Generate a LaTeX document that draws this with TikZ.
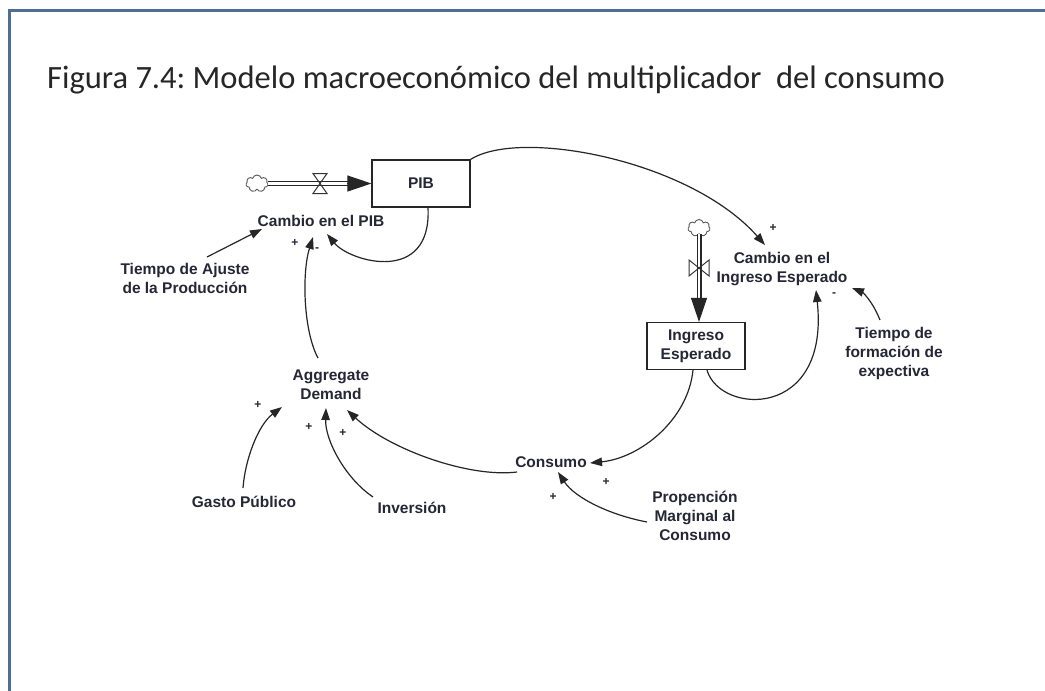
\documentclass[tikz,border=0pt]{standalone}
\usepackage{fontspec}
\setmainfont{Liberation Sans}
\newfontfamily\titlefont{Carlito}
\usetikzlibrary{arrows.meta,calc,shapes.symbols}
\definecolor{framecol}{HTML}{4F6E93}
\definecolor{txt}{HTML}{262636}
\frenchspacing
\begin{document}
\begin{tikzpicture}[x=1pt,y=-1pt,
 lbl/.style={font=\fontsize{15.5}{19}\selectfont\bfseries, text=txt, align=center, inner sep=1pt},
 stock/.style={draw=black!85, line width=1.2pt, minimum width=98pt, minimum height=47pt, inner sep=0pt, align=center, text=txt, font=\fontsize{15.5}{19}\selectfont\bfseries},
 conn/.style={line width=1.2pt, draw=black!85, -{Triangle[length=12pt,width=8.5pt]}},
 pipe/.style={double=white, double distance=2.6pt, line width=1.2pt, draw=black!85},
 pipetip/.style={-{Triangle[length=24pt,width=16pt]}, line width=1pt, draw=black!85},
 sgn/.style={font=\fontsize{12}{12}\selectfont\bfseries, inner sep=0pt, text=txt},
 cloudsrc/.style={cloud, cloud puffs=7, draw=black!65, line width=0.9pt, minimum width=22pt, minimum height=17pt, inner sep=0pt},
 valve/.style={line width=1pt, draw=black!80},
]
\useasboundingbox (0,0) rectangle (1045,691);
\fill[white] (0,0) rectangle (1045,691);
\draw[framecol, line width=3pt] (9.5,691) -- (9.5,10.5) -- (1045,10.5);

\node[font=\titlefont\fontsize{32.5}{36}\selectfont, text=black!85, inner sep=0pt, anchor=base west] (title) at (47,88) {Figura 7.4: Modelo macroeconómico del multiplicador\ \ del consumo};

% nodes
\node[stock] (pib) at (421,183.5) {PIB};
\node[cloudsrc] (src1) at (257,183.5) {};
\coordinate (v1) at (320,183.5);
\node[lbl] (cpib) at (321,221) {Cambio en el PIB};
\node[lbl] (taj) at (185,278) {Tiempo de Ajuste\\de la Producción};
\node[lbl] (ad) at (331,385) {Aggregate\\Demand};
\node[lbl] (gp) at (244,502) {Gasto Público};
\node[lbl] (inv) at (412,508) {Inversión};
\node[lbl] (cons) at (551,462) {Consumo};
\node[lbl] (pmc) at (695,516) {Propención\\Marginal al\\Consumo};
\node[stock] (ie) at (696,346) {Ingreso\\Esperado};
\node[cloudsrc] (src2) at (699,228) {};
\coordinate (v2) at (699,268);
\node[lbl] (cie) at (782,269) {Cambio en el\\Ingreso Esperado};
\node[lbl] (tfe) at (894,353) {Tiempo de\\formación de\\expectiva};

% pipes (flows)
\draw[pipe, shorten >=22pt] (src1.east) -- (src1.east -| pib.west);
\draw[pipetip] ($(src1.east -| pib.west)+(-24,0)$) -- (src1.east -| pib.west);
\draw[valve] ($(v1)+(-7,-10)$) -- ($(v1)+(7,-10)$) -- ($(v1)+(-7,10)$) -- ($(v1)+(7,10)$) -- cycle;

\draw[pipe, shorten >=22pt] (src2.south) -- (src2.south |- ie.north);
\draw[pipetip] ($(src2.south |- ie.north)+(0,-24)$) -- (src2.south |- ie.north);
\draw[valve] ($(v2)+(-10,-8)$) -- ($(v2)+(-10,8)$) -- ($(v2)+(10,-8)$) -- ($(v2)+(10,8)$) -- cycle;

% connectors
\draw[conn] (pib.north east) .. controls (520,128) and (690,160) .. ($(cie)+(-17,-24)$);
\draw[conn] ($(pib.south)+(7,0)$) .. controls (432,285) and (350,262) .. ($(cpib)+(6,13)$);
\draw[conn] ($(taj)+(22,-21)$) -- ($(cpib)+(-59,8)$);
\draw[conn] ($(ad)+(-13,-27)$) .. controls (303,330) and (302,272) .. ($(cpib)+(-8,16)$);
\draw[conn] ($(ie.south)+(11,0)$) .. controls (720,415) and (830,420) .. ($(cie)+(34,21)$);
\draw[conn] ($(tfe)+(-14,-33)$) .. controls (872,300) and (862,292) .. ($(cie)+(70,19)$);
\draw[conn] ($(ie.south)+(-3,0)$) .. controls (688,420) and (640,458) .. ($(cons)+(39,1)$);
\draw[conn] ($(pmc)+(-48,6)$) .. controls (610,515) and (575,498) .. ($(cons)+(7,10)$);
\draw[conn] ($(cons)+(-34,10)$) .. controls (470,478) and (390,450) .. ($(ad)+(16,25)$);
\draw[conn] ($(gp)+(-1,-14)$) .. controls (245,460) and (258,425) .. ($(ad)+(-49,22)$);
\draw[conn] ($(inv)+(-39,-11)$) .. controls (345,478) and (325,440) .. ($(ad)+(-5,23)$);

% polarity signs
\node[sgn] (s1) at (295,243) {+};
\node[sgn] (s2) at (317,250) {-};
\node[sgn] (s3) at (773,228) {+};
\node[sgn] (s4) at (834,295) {-};
\node[sgn] (s5) at (258,405) {+};
\node[sgn] (s6) at (309,427) {+};
\node[sgn] (s7) at (343,433) {+};
\node[sgn] (s8) at (606,482) {+};
\node[sgn] (s9) at (553,497) {+};
\end{tikzpicture}
\end{document}
